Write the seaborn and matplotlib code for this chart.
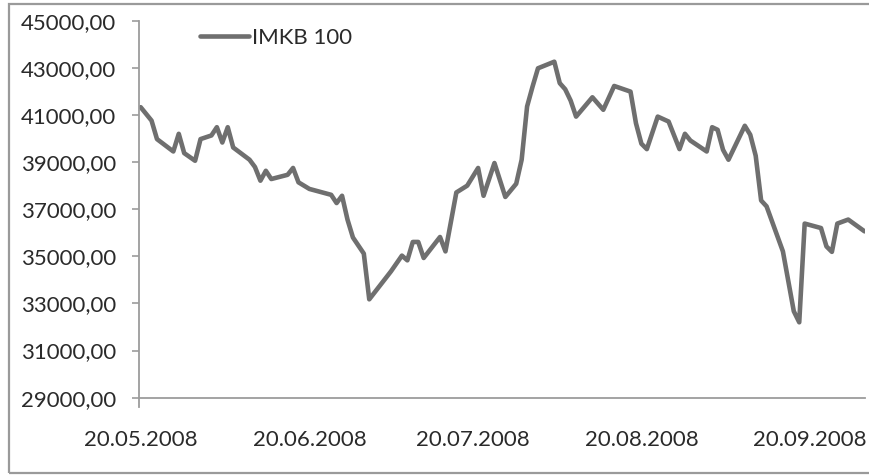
import matplotlib
matplotlib.use("Agg")
import matplotlib.pyplot as plt
import matplotlib.patches as mpatches
from matplotlib.ticker import FuncFormatter
import seaborn as sns
import pandas as pd

# ---- data ----
dates = [
    "2008-05-20", "2008-05-22", "2008-05-23", "2008-05-26", "2008-05-27",
    "2008-05-28", "2008-05-30", "2008-05-31", "2008-06-02", "2008-06-03",
    "2008-06-04", "2008-06-05", "2008-06-06", "2008-06-09", "2008-06-10",
    "2008-06-11", "2008-06-12", "2008-06-13", "2008-06-16", "2008-06-17",
    "2008-06-18", "2008-06-20", "2008-06-24", "2008-06-25", "2008-06-26",
    "2008-06-27", "2008-06-28", "2008-06-30", "2008-07-01", "2008-07-05",
    "2008-07-07", "2008-07-08", "2008-07-09", "2008-07-10", "2008-07-11",
    "2008-07-14", "2008-07-15", "2008-07-17", "2008-07-19", "2008-07-21",
    "2008-07-22", "2008-07-24", "2008-07-26", "2008-07-28", "2008-07-29",
    "2008-07-30", "2008-07-31", "2008-08-01", "2008-08-04", "2008-08-05",
    "2008-08-06", "2008-08-07", "2008-08-08", "2008-08-11", "2008-08-13",
    "2008-08-15", "2008-08-18", "2008-08-19", "2008-08-20", "2008-08-21",
    "2008-08-23", "2008-08-25", "2008-08-27", "2008-08-28", "2008-08-29",
    "2008-09-01", "2008-09-02", "2008-09-03", "2008-09-04", "2008-09-05",
    "2008-09-08", "2008-09-09", "2008-09-10", "2008-09-11", "2008-09-12",
    "2008-09-15", "2008-09-17", "2008-09-18", "2008-09-19", "2008-09-22",
    "2008-09-23", "2008-09-24", "2008-09-25", "2008-09-27", "2008-09-30",
]
imkb100 = [
    41330, 40760, 39975, 39450, 40200,
    39380, 39055, 39975, 40130, 40480,
    39830, 40480, 39620, 39100, 38790,
    38210, 38630, 38280, 38460, 38750,
    38140, 37860, 37610, 37260, 37570,
    36560, 35800, 35115, 33175, 34365,
    35030, 34830, 35610, 35610, 34930,
    35820, 35210, 37710, 38000, 38750,
    37570, 38960, 37520, 38080, 39100,
    41360, 42200, 42980, 43260, 42350,
    42090, 41610, 40930, 41750, 41220,
    42230, 41990, 40650, 39780, 39550,
    40930, 40720, 39550, 40200, 39915,
    39450, 40480, 40370, 39520, 39100,
    40540, 40160, 39270, 37370, 37120,
    35210, 32670, 32200, 36390, 36200,
    35420, 35190, 36390, 36560, 36060,
]
series_name = "IMKB 100"
x_tick_dates = ["2008-05-20", "2008-06-20", "2008-07-20", "2008-08-20", "2008-09-20"]
x_tick_labels = ["20.05.2008", "20.06.2008", "20.07.2008", "20.08.2008", "20.09.2008"]
y_ticks = [29000, 31000, 33000, 35000, 37000, 39000, 41000, 43000, 45000]

# ---- styling ----
sns.set_style("white")
plt.rcParams["font.family"] = ["Lato", "DejaVu Sans"]
text_color = "#2a2a2a"
axis_color = "#9c9c9c"
line_color = "#6f6f6f"

df = pd.DataFrame({"date": pd.to_datetime(dates), "value": imkb100})

fig = plt.figure(figsize=(8.7, 4.75), dpi=100)
ax = fig.add_axes([139.3 / 870, (475 - 397.7) / 475,
                   (865 - 139.3) / 870, (397.7 - 20.7) / 475])

sns.lineplot(data=df, x="date", y="value", ax=ax, color=line_color,
             linewidth=3.3, label=series_name, solid_joinstyle="round")

ax.set_ylim(y_ticks[0], y_ticks[-1])
ax.set_yticks(y_ticks)
ax.yaxis.set_major_formatter(FuncFormatter(lambda v, p: f"{v:.2f}".replace(".", ",")))

ax.set_xlim(pd.Timestamp("2008-05-20") - pd.Timedelta(hours=6),
            pd.Timestamp("2008-09-30") + pd.Timedelta(hours=2))
ax.set_xticks(pd.to_datetime(x_tick_dates))
ax.set_xticklabels(x_tick_labels)

ax.set_xlabel("")
ax.set_ylabel("")

for side in ["top", "right"]:
    ax.spines[side].set_visible(False)
for side in ["left", "bottom"]:
    ax.spines[side].set_color(axis_color)
    ax.spines[side].set_linewidth(1.3)
# the value axis runs a little below the date axis, as in the reference
ax.spines["left"].set_bounds(y_ticks[0] - 380, y_ticks[-1])

ax.tick_params(axis="y", direction="out", length=5, width=1.2, color=axis_color,
               labelsize=16, labelcolor=text_color, pad=11.5, left=True)
ax.tick_params(axis="x", direction="out", length=0, width=1.0, color=axis_color,
               labelsize=16, labelcolor=text_color, pad=23.5, bottom=True)

leg = ax.legend(loc="center left", bbox_to_anchor=(200 / 870, 1 - 38 / 475),
                bbox_transform=fig.transFigure, frameon=False, fontsize=16,
                handlelength=2.2, handletextpad=0.12, borderpad=0,
                borderaxespad=0)
for t in leg.get_texts():
    t.set_color(text_color)

# outer chart border (open on the right, as in the reference)
border = mpatches.Rectangle((9.3 / 870, (475 - 473.3) / 475), 1.2,
                            (473.3 - 4.0) / 475, transform=fig.transFigure,
                            fill=False, edgecolor="#9a9a9a", linewidth=1.6)
fig.patches.append(border)

fig.savefig("out.png", dpi=100, facecolor="white")
